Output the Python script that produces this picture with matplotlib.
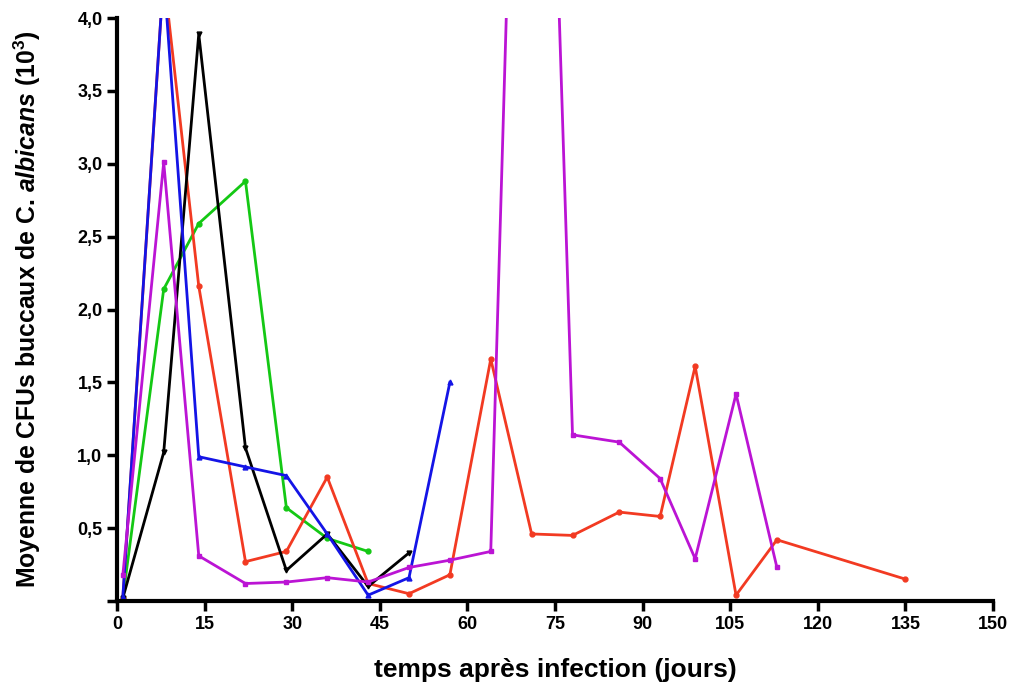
import matplotlib.pyplot as plt
import numpy as np

plt.rcParams['font.family'] = ['Liberation Sans', 'DejaVu Sans']
plt.rcParams['mathtext.fontset'] = 'custom'
plt.rcParams['mathtext.rm'] = 'Liberation Sans:bold'
plt.rcParams['mathtext.it'] = 'Liberation Sans:italic:bold'
plt.rcParams['mathtext.bf'] = 'Liberation Sans:bold'

# jours de prélèvement
jours = [1, 8, 14, 22, 29, 36, 43, 50, 57, 64, 71, 78, 86, 93, 99, 106, 113, 135]

# moyennes des CFUs (10^3) par groupe
rouge = [0.02, 4.3, 2.16, 0.27, 0.34, 0.85, 0.12, 0.05, 0.18, 1.66, 0.46, 0.45,
         0.61, 0.58, 1.61, 0.04, 0.42, 0.15]
bleu = [0.03, 4.3, 0.99, 0.92, 0.86, 0.46, 0.04, 0.16, 1.50]
noir = [0.02, 1.02, 3.89, 1.05, 0.21, 0.46, 0.10, 0.33]
vert = [0.02, 2.14, 2.59, 2.88, 0.64, 0.43, 0.34]
violet = [0.18, 3.01, 0.31, 0.12, 0.13, 0.16, 0.13, 0.23, 0.28, 0.34, 10.0, 1.14,
          1.09, 0.84, 0.29, 1.42, 0.23]

xticks = list(range(0, 151, 15))
yticks = [0, 0.5, 1.0, 1.5, 2.0, 2.5, 3.0, 3.5, 4.0]
ylabels = ['', '0,5', '1,0', '1,5', '2,0', '2,5', '3,0', '3,5', '4,0']

fig = plt.figure(figsize=[10.16, 6.88], dpi=100)
ax = fig.add_axes([117/1016, 1-601/688, 876/1016, 583/688])

series = [(vert, '#14c814', 'o'), (rouge, '#f23a22', 'o'), (noir, 'black', 'v'),
          (bleu, '#1414e6', '^'), (violet, '#bb14d4', 's')]
for vals, col, mk in series:
    ax.plot(jours[:len(vals)], vals, color=col, lw=2, marker=mk, ms=3.5,
            mec=col, mfc=col)

ax.set_xlim(0, 150)
ax.set_ylim(0, 4.0)
ax.set_xticks(xticks)
ax.set_xticklabels([str(t) for t in xticks], fontsize=13, fontweight='bold')
ax.set_yticks(yticks)
ax.set_yticklabels(ylabels, fontsize=13, fontweight='bold')
ax.tick_params(direction='out', length=7, width=2.5)
for s in ['top', 'right']:
    ax.spines[s].set_visible(False)
for s in ['left', 'bottom']:
    ax.spines[s].set_linewidth(3)

ax.set_xlabel('temps après infection (jours)', fontsize=19, fontweight='bold',
              labelpad=18)
ax.set_ylabel(r'Moyenne de CFUs buccaux de C. $\it{albicans}$ (10$^{3}$)',
              fontsize=17.8, fontweight='bold', labelpad=25)

fig.savefig('out.png', dpi=100)
